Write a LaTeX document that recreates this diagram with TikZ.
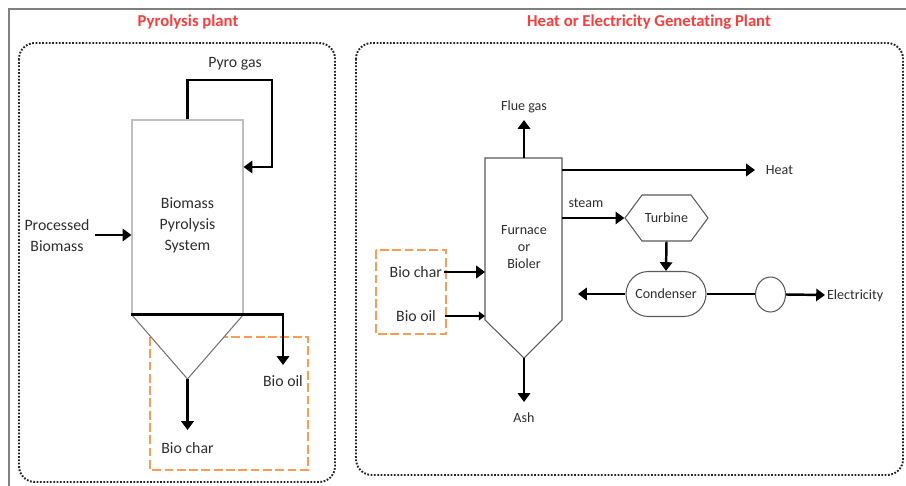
\documentclass[tikz,border=0pt]{standalone}
\usepackage{fontspec}
\setmainfont{Carlito}[Ligatures={NoCommon}]
\usetikzlibrary{arrows.meta,positioning,shapes.geometric,shapes.misc,shapes.symbols}
\definecolor{titlered}{HTML}{FF3B3B}
\definecolor{cutorange}{HTML}{FF9A52}
\definecolor{inkgray}{HTML}{2E2E2E}
\definecolor{unitgray}{HTML}{5A5A5A}
\tikzset{
	flow/.style={line width=1.4pt, -{Triangle[length=5pt,width=7pt]}},
	thinflow/.style={line width=1.1pt, -{Triangle[length=3.5pt,width=5pt]}},
	pipe/.style={line width=1.4pt},
	unit/.style={draw=unitgray, line width=0.6pt, fill=white},
	lbl/.style={font=\fontsize{9}{12}\selectfont, text=inkgray, inner sep=1pt, align=center},
	smalllbl/.style={font=\fontsize{8}{10.5}\selectfont, text=inkgray, inner sep=1pt, align=center},
	heading/.style={font=\fontsize{9.5}{11}\selectfont\bfseries, text=titlered},
	plantbox/.style={draw=black!85, line width=1.1pt, dash pattern=on 1pt off 0.9pt, rounded corners=9pt},
	cutbox/.style={draw=cutorange, line width=1.5pt, dash pattern=on 5pt off 2pt}
}
\begin{document}
\begin{tikzpicture}[x=0.02cm, y=-0.02cm]
	\useasboundingbox (0,0) rectangle (906,486);
	\draw[gray, line width=0.8pt] (9,486) -- (9,9) -- (906,9);
	
	\node[heading] (pyrotitle) at (188,22) {Pyrolysis plant};
	\node[heading] (heattitle) at (649,22) {Heat or Electricity Genetating Plant};
	\draw[plantbox] (19,43) rectangle (335,482);
	\draw[plantbox] (356,43) rectangle (903,475);
	
	% pyrolysis side
	\draw[cutbox] (150,337) rectangle (308,470);
	\node[unit, draw=black!25, minimum width=2.22cm, minimum height=3.88cm, inner sep=0] (pyro) at (187.5,217) {};
	\node[lbl] (pyrotext) at (187.5,225) {Biomass\\Pyrolysis\\System};
	\draw[unit, draw=black!55] (pyro.south west) -- (187.5,379) coordinate (apex) -- (pyro.south east);
	
	\node[lbl] (pyrogas) at (235,64) {Pyro gas};
	\coordinate (gasturn) at (272,80);
	\draw[flow] (pyro.north) |- (gasturn) |- (pyro.east |- 0,167);
	
	\node[lbl] (procbio) at (57,236) {Processed\\Biomass};
	\draw[flow] ([xshift=2pt]procbio.east |- 0,235) -- (pyro.west |- 0,235);
	
	\coordinate (oiltip) at (283,365);
	\node[lbl, below=5pt of oiltip] (biooil) {Bio oil};
	\draw[flow] (pyro.south west) -| (oiltip);
	
	\coordinate (chartip) at (187.5,430);
	\node[lbl, below=6pt of chartip] (biochar) {Bio char};
	\draw[flow] (apex) -- (chartip);
	
	% heat / electricity side
	\draw[cutbox] (376,250) rectangle (446,334);
	\node[lbl, anchor=east] (fuelchar) at (444,272) {Bio char};
	\node[lbl, anchor=east] (fueloil) at (438,316) {Bio oil};
	
	\draw[unit] (485,158) -- (562,158) -- (562,320) -- (524,358) -- (485,320) -- cycle;
	\coordinate (furntop) at (524,158);
	\coordinate (furnbot) at (524,358);
	\coordinate (furnheat) at (562,170);
	\coordinate (furnsteam) at (562,218);
	\coordinate (charin) at (485,272);
	\coordinate (oilin) at (485,316);
	\node[smalllbl, font=\fontsize{8}{9.5}\selectfont] (furntext) at (524,247) {Furnace\\or\\Bioler};
	
	\draw[flow] (fuelchar.east) -- (charin);
	\draw[thinflow] ([xshift=4pt]fueloil.east) -- (oilin);
	
	\coordinate (fluetip) at (524,120);
	\node[smalllbl, above=3pt of fluetip] (fluegas) {Flue gas};
	\draw[flow] (furntop) -- (fluetip);
	
	\coordinate (heattip) at (755,170);
	\node[smalllbl, right=5pt of heattip] (heat) {Heat};
	\draw[flow] (furnheat) -- (heattip);
	
	\node[unit, signal, signal to=east and west, signal pointer angle=107, minimum width=1.66cm, minimum height=0.92cm, inner sep=0, font=\fontsize{8}{10}\selectfont, text=inkgray] (turbine) at (666.5,218) {Turbine};
	\node[smalllbl] (steam) at (586,203) {steam};
	\draw[flow] (furnsteam) -- (turbine.west);
	
	\node[unit, rounded rectangle, minimum width=1.6cm, minimum height=0.9cm, inner sep=0, font=\fontsize{8}{10}\selectfont, text=inkgray] (condenser) at (666,294) {Condenser};
	\draw[flow] (turbine.south) -- (condenser.north);
	\coordinate (condout) at (578,294);
	\draw[flow] (condenser.west) -- (condout);
	
	\node[unit, ellipse, minimum width=0.6cm, minimum height=0.7cm, inner sep=0] (gen) at (770.5,294.5) {};
	\draw[pipe] (condenser.east) -- (condenser.east -| gen.west);
	\coordinate (electip) at (825,295);
	\node[smalllbl, anchor=west] (electricity) at (825,296) {Electricity};
	\draw[flow] (gen.east) -- (electip);
	
	\coordinate (ashtip) at (524,402);
	\node[smalllbl, below=5pt of ashtip] (ash) {Ash};
	\draw[flow] (furnbot) -- (ashtip);
\end{tikzpicture}
\end{document}
